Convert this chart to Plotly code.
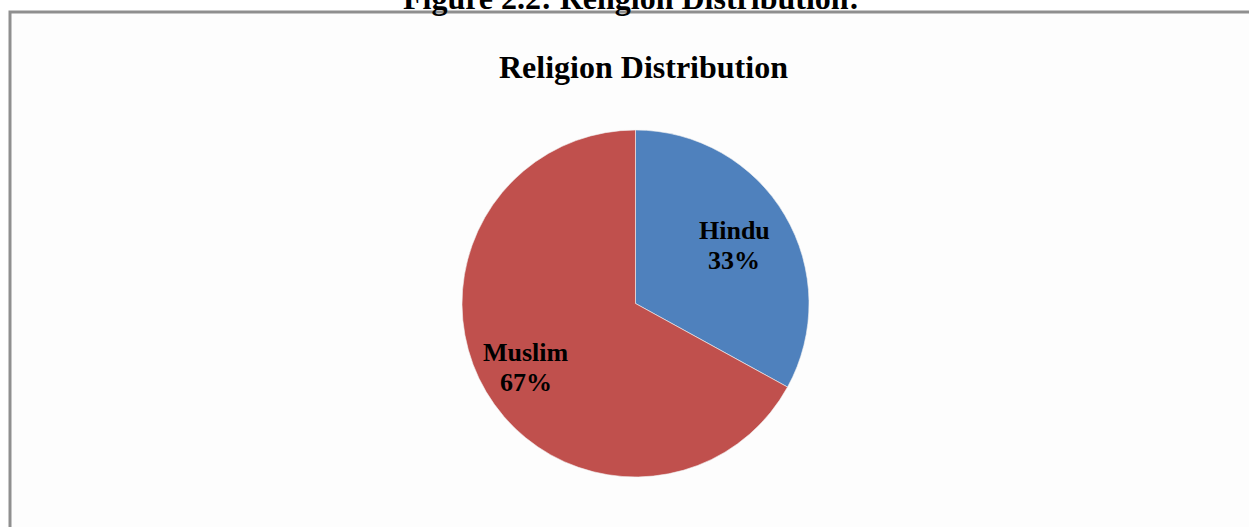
import math
import plotly.graph_objects as go

labels = ["Hindu", "Muslim"]
values = [33, 67]
colors = ["#4F81BD", "#C0504D"]

W, H = 1249, 527
serif = "Liberation Serif, Times New Roman, serif"

# pie geometry (pixels)
cx, cy, r = 635.5, 303.5, 173.5
label_radius = [0.66, 0.73]   # fraction of radius where each data label sits
line_gap = 30                 # px between label name and percent lines

fig = go.Figure(go.Pie(
    labels=labels, values=values, sort=False, direction="clockwise", rotation=0,
    marker=dict(colors=colors, line=dict(color="#f2f2f2", width=0.6)),
    textinfo="none", showlegend=False, hoverinfo="label+percent",
    domain=dict(x=[(cx - r) / W, (cx + r) / W], y=[1 - (cy + r) / H, 1 - (cy - r) / H]),
))

annotations = [
    dict(text="Figure 2.2: Religion Distribution:", xref="paper", yref="paper",
         x=631 / W, y=1 + 2 / H, xanchor="center", yanchor="middle", showarrow=False,
         font=dict(family=serif, size=32, color="black", weight="bold")),
    dict(text="Religion Distribution", xref="paper", yref="paper",
         x=643 / W, y=1 - 67 / H, xanchor="center", yanchor="middle", showarrow=False,
         font=dict(family=serif, size=32, color="black", weight="bold")),
]

total = sum(values)
cum = 0
for lab, v, rf in zip(labels, values, label_radius):
    theta = math.radians((cum + v / 2) / total * 360)
    cum += v
    px = cx + rf * r * math.sin(theta)
    py = cy - rf * r * math.cos(theta)
    pct = f"{round(v / total * 100)}%"
    for txt, off in ((lab, -line_gap / 2), (pct, line_gap / 2)):
        annotations.append(dict(
            text=txt, xref="paper", yref="paper", x=px / W, y=1 - (py + off) / H,
            xanchor="center", yanchor="middle", showarrow=False,
            font=dict(family=serif, size=26, color="black", weight="bold")))

fig.update_layout(
    width=W, height=H, margin=dict(l=0, r=0, t=0, b=0),
    paper_bgcolor="white", plot_bgcolor="white",
    shapes=[dict(type="rect", xref="paper", yref="paper",
                 x0=10 / W, x1=1.05, y0=-0.05, y1=1 - 12 / H,
                 line=dict(color="#8f8f8f", width=3), fillcolor="#fdfdfd", layer="below")],
    annotations=annotations,
)

fig.write_html("out.html")
